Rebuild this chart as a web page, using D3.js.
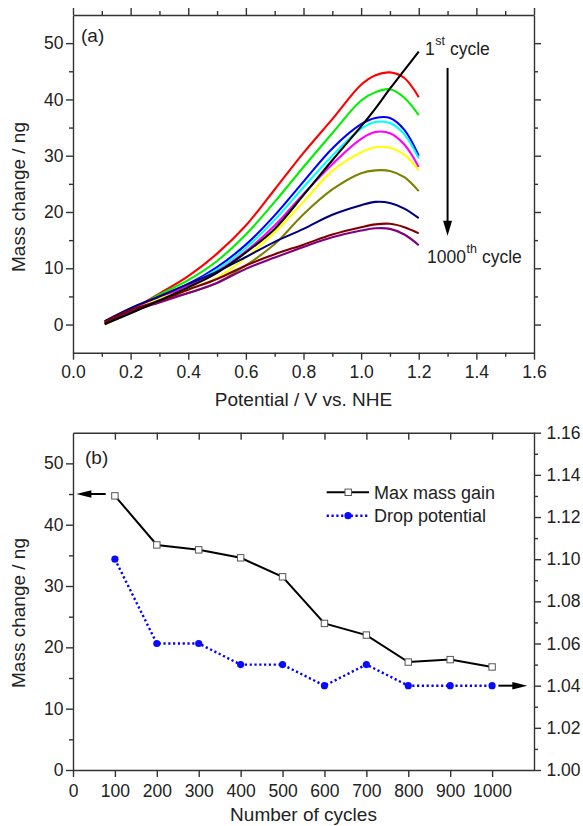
<!DOCTYPE html>
<html>
<head>
<meta charset="utf-8">
<script src="https://cdn.jsdelivr.net/npm/d3@7"></script>
<style>
  body { margin: 0; background: #fff; }
  text { font-family: "Liberation Sans", Arial, sans-serif; fill: #222; }
</style>
</head>
<body>
<svg id="fig" width="583" height="826"></svg>
<script>
// ---------- Panel (a): mass change vs. potential, one curve per cycle ----------
const potential = [0.11, 0.2, 0.3, 0.4, 0.5, 0.6, 0.7, 0.8, 0.9, 1.0, 1.05, 1.1, 1.15, 1.2];
const cycle1    = [0.1, 2.0, 4.3, 6.6, 9.2, 12.8, 17.0, 23.0, 29.2, 35.2, 38.4, 41.9, 45.2, 48.5];
const cycle100  = [0.3, 2.6, 5.5, 8.6, 12.6, 17.6, 24.0, 30.5, 36.5, 42.6, 44.3, 44.8, 43.8, 40.4];
const cycle200  = [0.2, 2.5, 5.3, 7.9, 11.3, 16.0, 21.8, 28.0, 34.0, 39.8, 41.3, 41.8, 40.3, 37.2];
const cycle300  = [0.5, 2.8, 5.0, 7.2, 10.2, 14.2, 19.4, 25.4, 31.3, 35.6, 36.7, 36.7, 34.6, 30.0];
const cycle400  = [0.3, 2.6, 4.9, 7.0, 9.8, 13.6, 18.6, 24.4, 30.0, 34.8, 36.0, 35.8, 33.8, 29.5];
const cycle500  = [0.3, 2.5, 4.8, 6.8, 9.4, 13.0, 17.6, 23.2, 28.5, 33.0, 34.2, 34.0, 32.0, 28.0];
const cycle600  = [0.1, 2.3, 4.6, 6.2, 8.3, 11.9, 16.4, 21.8, 27.3, 30.6, 31.5, 31.4, 30.2, 27.4];
const cycle700  = [0.0, 2.1, 4.3, 5.6, 7.4, 10.5, 14.3, 19.6, 24.0, 26.9, 27.4, 27.3, 26.2, 23.7];
const cycle800  = [0.6, 2.9, 5.0, 7.2, 9.4, 12.0, 14.7, 17.0, 19.5, 21.2, 21.8, 21.6, 20.6, 18.9];
const cycle900  = [0.2, 2.3, 3.9, 5.6, 7.4, 9.9, 11.9, 13.8, 15.5, 16.7, 17.1, 17.0, 16.0, 14.1];
const cycle1000 = [0.5, 2.6, 4.2, 6.2, 8.1, 10.5, 12.5, 14.2, 16.0, 17.3, 17.8, 17.9, 17.3, 16.2];

const curveValues = [cycle100, cycle200, cycle300, cycle400, cycle500, cycle600,
                     cycle700, cycle800, cycle900, cycle1000, cycle1];
const curveColors = ["#ff0000", "#00f000", "#0000ff", "#00ffff", "#ff00ff", "#ffff00",
                     "#808000", "#000080", "#800080", "#800000", "#000000"];

const xTicksA = [0, 0.2, 0.4, 0.6, 0.8, 1.0, 1.2, 1.4, 1.6];
const xMinorA = [0.1, 0.3, 0.5, 0.7, 0.9, 1.1, 1.3, 1.5];
const yTicksA = [0, 10, 20, 30, 40, 50];
const yMinorA = [5, 15, 25, 35, 45];

// ---------- Panel (b): max mass gain and drop potential vs. cycle number ----------
const cycleNumbers  = [100, 200, 300, 400, 500, 600, 700, 800, 900, 1000];
const maxMassGain   = [44.7, 36.7, 35.9, 34.6, 31.5, 23.9, 22.0, 17.6, 18.0, 16.8];
const dropPotential = [1.10, 1.06, 1.06, 1.05, 1.05, 1.04, 1.05, 1.04, 1.04, 1.04];

const xTicksB  = [0, 100, 200, 300, 400, 500, 600, 700, 800, 900, 1000];
const yTicksB  = [0, 10, 20, 30, 40, 50];
const yMinorB  = [5, 15, 25, 35, 45];
const y2TicksB = [1.00, 1.02, 1.04, 1.06, 1.08, 1.10, 1.12, 1.14, 1.16];
const y2MinorB = [1.01, 1.03, 1.05, 1.07, 1.09, 1.11, 1.13, 1.15];

const svg = d3.select("#fig");
const AXIS = "#333";
const BLUE_TEXT = "#2f2fff";

function styleAxis(g, fontSize) {
  g.selectAll("path.domain").attr("stroke", AXIS).attr("stroke-width", 1.4);
  g.selectAll(".tick line").attr("stroke", AXIS).attr("stroke-width", 1.4);
  g.selectAll(".tick text").attr("font-size", fontSize).attr("fill", "#222")
    .style("font-family", '"Liberation Sans", Arial, sans-serif');
}
function drawAxis(gen, tx, ty, fontSize) {
  const g = svg.append("g").attr("transform", `translate(${tx},${ty})`).call(gen);
  styleAxis(g, fontSize);
  return g;
}
function minorAxis(gen, tx, ty) {
  const g = svg.append("g").attr("transform", `translate(${tx},${ty})`).call(gen);
  g.select("path.domain").remove();
  styleAxis(g, 0);
  g.selectAll(".tick text").remove();
}

// ===== Panel (a) =====
const xA = d3.scaleLinear([0, 1.6], [73, 534]);
const yA = d3.scaleLinear([-5, 55], [352.7, 15]);
const FS = 17.5;

drawAxis(d3.axisBottom(xA).tickValues(xTicksA).tickSize(7).tickSizeOuter(0).tickPadding(6)
  .tickFormat(d3.format(".1f")), 0, yA.range()[0], FS);
minorAxis(d3.axisBottom(xA).tickValues(xMinorA).tickSize(4).tickFormat(""), 0, yA.range()[0]);
drawAxis(d3.axisTop(xA).tickValues(xTicksA).tickSize(7).tickSizeOuter(0).tickFormat(""), 0, yA.range()[1], FS);
minorAxis(d3.axisTop(xA).tickValues(xMinorA).tickSize(4).tickFormat(""), 0, yA.range()[1]);
drawAxis(d3.axisLeft(yA).tickValues(yTicksA).tickSize(7).tickSizeOuter(0).tickPadding(2.5), xA.range()[0], 0, FS);
minorAxis(d3.axisLeft(yA).tickValues(yMinorA).tickSize(4).tickFormat(""), xA.range()[0], 0);
drawAxis(d3.axisRight(yA).tickValues(yTicksA).tickSize(7).tickSizeOuter(0).tickFormat(""), xA.range()[1], 0, FS);
minorAxis(d3.axisRight(yA).tickValues(yMinorA).tickSize(4).tickFormat(""), xA.range()[1], 0);

const lineA = d3.line()
  .x((d, i) => xA(potential[i]))
  .y(d => yA(d))
  .curve(d3.curveCatmullRom.alpha(0.5));

svg.append("g").selectAll("path").data(curveValues).join("path")
  .attr("d", d => lineA(d))
  .attr("fill", "none")
  .attr("stroke", (d, i) => curveColors[i])
  .attr("stroke-width", 2.1)
  .attr("stroke-linejoin", "round");

// panel label and axis titles
svg.append("text").attr("x", 81).attr("y", 42).attr("font-size", 19).text("(a)");
svg.append("text").attr("x", d3.mean(xA.range())).attr("y", 406)
  .attr("text-anchor", "middle").attr("font-size", 19).text("Potential / V vs. NHE");
svg.append("text").attr("transform", "translate(25,197) rotate(-90)")
  .attr("text-anchor", "middle").attr("font-size", 19).text("Mass change / ng");

// cycle annotations: number, superscript ordinal, then "cycle"
function ordinalLabel(x, y, num, sup) {
  const g = svg.append("g");
  const t1 = g.append("text").attr("x", x).attr("y", y).attr("font-size", 17.5)
    .attr("fill", BLUE_TEXT).text(num);
  const x2 = x + t1.node().getComputedTextLength() + 0.5;
  const t2 = g.append("text").attr("x", x2).attr("y", y - 10).attr("font-size", 12.5)
    .attr("fill", BLUE_TEXT).text(sup);
  const x3 = x2 + t2.node().getComputedTextLength() + 5;
  g.append("text").attr("x", x3).attr("y", y).attr("font-size", 17.5)
    .attr("fill", BLUE_TEXT).text("cycle");
}
ordinalLabel(425, 55, "1", "st");
ordinalLabel(427, 263, "1000", "th");

const arrowX = xA(1.3), arrowTop = yA(45.6), arrowTip = yA(15.8);
svg.append("line").attr("x1", arrowX).attr("x2", arrowX)
  .attr("y1", arrowTop).attr("y2", arrowTip - 12)
  .attr("stroke", "#000").attr("stroke-width", 2);
svg.append("path")
  .attr("d", `M${arrowX - 4.5},${arrowTip - 15} L${arrowX + 4.5},${arrowTip - 15} L${arrowX},${arrowTip} Z`)
  .attr("fill", "#000");

// ===== Panel (b) =====
const xB = d3.scaleLinear([0, 1100], [73, 534]);
const yB = d3.scaleLinear([0, 55], [770, 432.7]);
const y2B = d3.scaleLinear([1.0, 1.16], [770, 432.7]);

drawAxis(d3.axisBottom(xB).tickValues(xTicksB).tickSize(7).tickSizeOuter(0).tickPadding(7.5)
  .tickFormat(d3.format("d")), 0, yB.range()[0], FS);
drawAxis(d3.axisTop(xB).tickValues(xTicksB.slice(1)).tickSize(-7).tickSizeOuter(0).tickFormat(""), 0, yB.range()[1], FS);
drawAxis(d3.axisLeft(yB).tickValues(yTicksB).tickSize(7).tickSizeOuter(0).tickPadding(2.5), xB.range()[0], 0, FS);
minorAxis(d3.axisLeft(yB).tickValues(yMinorB).tickSize(4).tickFormat(""), xB.range()[0], 0);
drawAxis(d3.axisRight(y2B).tickValues(y2TicksB).tickSize(7).tickSizeOuter(0).tickPadding(5.5)
  .tickFormat(d3.format(".2f")), xB.range()[1], 0, FS);
minorAxis(d3.axisRight(y2B).tickValues(y2MinorB).tickSize(4).tickFormat(""), xB.range()[1], 0);

// drop potential (right axis), blue dotted with filled circles
const dropLine = d3.line().x((d, i) => xB(cycleNumbers[i])).y(d => y2B(d));
svg.append("path").attr("d", dropLine(dropPotential))
  .attr("fill", "none").attr("stroke", "#0000ff").attr("stroke-width", 2.4)
  .attr("stroke-dasharray", "2.2,2.6");
svg.append("g").selectAll("circle").data(dropPotential).join("circle")
  .attr("cx", (d, i) => xB(cycleNumbers[i])).attr("cy", d => y2B(d))
  .attr("r", 3.6).attr("fill", "#0a0aff");

// max mass gain (left axis), black line with open squares
const gainLine = d3.line().x((d, i) => xB(cycleNumbers[i])).y(d => yB(d));
svg.append("path").attr("d", gainLine(maxMassGain))
  .attr("fill", "none").attr("stroke", "#000").attr("stroke-width", 2);
svg.append("g").selectAll("rect").data(maxMassGain).join("rect")
  .attr("x", (d, i) => xB(cycleNumbers[i]) - 3.2).attr("y", d => yB(d) - 3.2)
  .attr("width", 6.4).attr("height", 6.4)
  .attr("fill", "#fff").attr("stroke", "#555").attr("stroke-width", 1);

// axis-pointing arrows
function hArrow(x1, x2, y) {
  const dir = Math.sign(x2 - x1);
  svg.append("line").attr("x1", x1).attr("x2", x2 - dir * 12).attr("y1", y).attr("y2", y)
    .attr("stroke", "#000").attr("stroke-width", 2);
  svg.append("path")
    .attr("d", `M${x2 - dir * 15},${y - 3.8} L${x2 - dir * 15},${y + 3.8} L${x2},${y} Z`)
    .attr("fill", "#000");
}
hArrow(xB(78), xB(8), yB(45));
hArrow(xB(1015), xB(1084), y2B(1.04));

// legend
const lg = svg.append("g");
lg.append("line").attr("x1", 326.7).attr("x2", 369).attr("y1", 492.3).attr("y2", 492.3)
  .attr("stroke", "#000").attr("stroke-width", 2);
lg.append("rect").attr("x", 345).attr("y", 489.1).attr("width", 6.4).attr("height", 6.4)
  .attr("fill", "#fff").attr("stroke", "#555").attr("stroke-width", 1);
lg.append("text").attr("x", 374).attr("y", 498.5).attr("font-size", 18).text("Max mass gain");
lg.append("line").attr("x1", 326.7).attr("x2", 369).attr("y1", 515.7).attr("y2", 515.7)
  .attr("stroke", "#0000ff").attr("stroke-width", 2.4).attr("stroke-dasharray", "2.2,2.6");
lg.append("circle").attr("cx", 348).attr("cy", 515.7).attr("r", 3.6).attr("fill", "#0a0aff");
lg.append("text").attr("x", 374).attr("y", 522).attr("font-size", 18).text("Drop potential");

svg.append("text").attr("x", 85).attr("y", 464).attr("font-size", 19).text("(b)");
svg.append("text").attr("x", d3.mean(xB.range())).attr("y", 821)
  .attr("text-anchor", "middle").attr("font-size", 19).text("Number of cycles");
svg.append("text").attr("transform", "translate(25,613) rotate(-90)")
  .attr("text-anchor", "middle").attr("font-size", 19).text("Mass change / ng");
</script>
</body>
</html>
